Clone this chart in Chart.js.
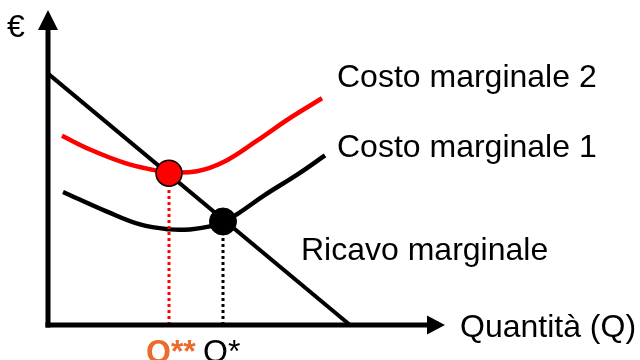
<!DOCTYPE html>
<html><head><meta charset="utf-8">
<script src="https://cdn.jsdelivr.net/npm/chart.js@4"></script>
<style>html,body{margin:0;padding:0;background:#fff}#wrap{width:640px;height:360px}</style>
</head><body><div id="wrap"><canvas id="c" width="640" height="360"></canvas></div>
<script>
// Data (arbitrary units: x = quantity, y = €)
const ricavoX = [0, 302];
const ricavoY = [255, 0];
const cm1X = [15, 59, 92, 122, 142, 162, 176, 190, 217, 250, 277];
const cm1Y = [135, 115, 102, 97, 97, 100, 105, 113, 132, 153, 172];
const cm2X = [14, 42, 75, 102, 122, 149, 175, 209, 242, 274];
const cm2Y = [192, 178, 165, 158, 155, 156, 165, 187, 210, 230];
const eqX = [121, 175];      // Q**, Q*
const eqY = [154, 105];
const labels = ["Costo marginale 2", "Costo marginale 1", "Ricavo marginale", "Quantità (Q)", "€", "Q**", "Q*"];

const pts = (xs, ys) => xs.map((x, i) => ({x, y: ys[i]}));

const overlay = {
  id: 'overlay',
  afterDraw(chart) {
    const {ctx, scales: {x, y}} = chart;
    const x0 = x.getPixelForValue(0), y0 = y.getPixelForValue(0);
    ctx.save();
    // axes
    ctx.strokeStyle = '#000'; ctx.fillStyle = '#000'; ctx.lineWidth = 5; ctx.lineCap = 'butt';
    ctx.beginPath(); ctx.moveTo(x0, y0 + 2.5); ctx.lineTo(x0, 29); ctx.stroke();
    ctx.beginPath(); ctx.moveTo(x0 - 2.5, y0); ctx.lineTo(428, y0); ctx.stroke();
    ctx.beginPath(); ctx.moveTo(x0, 10); ctx.lineTo(x0 + 10, 30); ctx.lineTo(x0 - 10, 30); ctx.closePath(); ctx.fill();
    ctx.beginPath(); ctx.moveTo(445, y0); ctx.lineTo(427, y0 - 9.5); ctx.lineTo(427, y0 + 9.5); ctx.closePath(); ctx.fill();
    // texts
    ctx.font = '32px "Liberation Sans", Arial, sans-serif';
    ctx.textBaseline = 'alphabetic'; ctx.textAlign = 'left';
    ctx.fillText(labels[0], 337, 87);
    ctx.fillText(labels[1], 337, 157);
    ctx.fillText(labels[2], 301, 260);
    ctx.fillText(labels[3], 460, 337);
    ctx.fillText(labels[4], 7, 37);
    ctx.fillText(labels[6], x.getPixelForValue(eqX[1]) - 20, 362);
    ctx.font = 'bold 32px "Liberation Sans", Arial, sans-serif';
    ctx.fillStyle = '#EE6A2C';
    ctx.fillText(labels[5], x.getPixelForValue(eqX[0]) - 23, 362);
    ctx.restore();
  }
};

new Chart(document.getElementById('c'), {
  type: 'scatter',
  data: {
    datasets: [
      { data: pts([eqX[0]], [eqY[0]]), pointRadius: 13, pointBackgroundColor: '#FF0000', pointBorderColor: '#000', pointBorderWidth: 1.5, showLine: false, order: 0 },
      { data: pts([eqX[1]], [eqY[1]]), pointRadius: 13.5, pointBackgroundColor: '#000', pointBorderColor: '#000', pointBorderWidth: 1, showLine: false, order: 0 },
      { data: [{x: eqX[0], y: 0}, {x: eqX[0], y: eqY[0]}], showLine: true, borderColor: '#FF0000', borderWidth: 3, borderDash: [3, 3], pointRadius: 0, order: 1 },
      { data: [{x: eqX[1], y: 0}, {x: eqX[1], y: eqY[1]}], showLine: true, borderColor: '#000', borderWidth: 3, borderDash: [3, 3], pointRadius: 0, order: 1 },
      { data: pts(cm2X, cm2Y), showLine: true, borderColor: '#FF0000', borderWidth: 4.5, pointRadius: 0, tension: 0.4, order: 2 },
      { data: pts(cm1X, cm1Y), showLine: true, borderColor: '#000', borderWidth: 4.5, pointRadius: 0, tension: 0.4, order: 3 },
      { data: pts(ricavoX, ricavoY), showLine: true, borderColor: '#000', borderWidth: 4, pointRadius: 0, order: 4 }
    ]
  },
  options: {
    responsive: false, animation: false,
    layout: { padding: { left: 48, right: 192, top: 10, bottom: 35 } },
    plugins: { legend: { display: false }, tooltip: { enabled: false } },
    scales: {
      x: { type: 'linear', min: 0, max: 400, display: false },
      y: { type: 'linear', min: 0, max: 315, display: false }
    },
    elements: { line: { borderCapStyle: 'butt' } },
    clip: false
  },
  plugins: [overlay]
});
</script></body></html>
